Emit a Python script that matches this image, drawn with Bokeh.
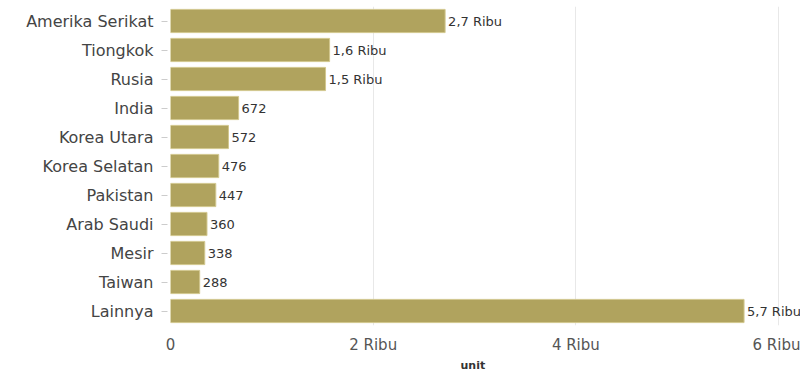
from bokeh.plotting import figure
from bokeh.models import FactorRange, Range1d, FixedTicker, LabelSet, Title, ColumnDataSource
from bokeh.core.properties import value
from bokeh.embed import file_html
from bokeh.resources import INLINE

countries = ["Amerika Serikat", "Tiongkok", "Rusia", "India", "Korea Utara",
             "Korea Selatan", "Pakistan", "Arab Saudi", "Mesir", "Taiwan", "Lainnya"]
values = [2710, 1570, 1530, 672, 572, 476, 447, 360, 338, 288, 5660]
value_labels = ["2,7 Ribu", "1,6 Ribu", "1,5 Ribu", "672", "572", "476", "447",
                "360", "338", "288", "5,7 Ribu"]
x_ticks = [0, 2000, 4000, 6000]
x_tick_labels = ["0", "2 Ribu", "4 Ribu", "6 Ribu"]
x_title = "unit"

FONT = "DejaVu Sans"

src = ColumnDataSource(dict(country=countries, value=values, label=value_labels))

p = figure(width=800, height=371, output_backend="svg", toolbar_location=None,
           y_range=FactorRange(factors=list(reversed(countries)), range_padding=0),
           x_range=Range1d(0, 6217),
           min_border_left=170, min_border_right=0, min_border_top=6, min_border_bottom=0)
p.outline_line_color = None
p.background_fill_color = "white"

p.hbar(y="country", right="value", left=0, height=0.8, source=src,
       fill_color="#b0a35e", line_color="#d2c78e", line_width=1)

labels = LabelSet(x="value", y="country", text="label", source=src,
                  x_offset=3, text_baseline="middle", text_align="left",
                  text_font=value(FONT), text_font_size="13px", text_color="#333333")
p.add_layout(labels)

# x axis
p.xaxis.ticker = FixedTicker(ticks=x_ticks)
p.xaxis.major_label_overrides = {t: l for t, l in zip(x_ticks, x_tick_labels)}
p.xaxis.axis_line_color = None
p.xaxis.major_tick_line_color = None
p.xaxis.minor_tick_line_color = None
p.xaxis.major_tick_out = 0
p.xaxis.major_tick_in = 0
p.xaxis.major_label_standoff = 10
p.xaxis.major_label_text_font = FONT
p.xaxis.major_label_text_font_size = "15px"
p.xaxis.major_label_text_color = "#555555"

title = Title(text=x_title, align="left", offset=290, standoff=0,
              text_font=FONT, text_font_size="11px", text_font_style="bold",
              text_color="#333333")
p.add_layout(title, "below")

# y axis
p.yaxis.axis_line_color = None
p.yaxis.major_tick_line_color = "#cccccc"
p.yaxis.major_tick_in = -3
p.yaxis.major_tick_out = 9
p.yaxis.major_label_standoff = 8
p.yaxis.major_label_text_font = FONT
p.yaxis.major_label_text_font_size = "16px"
p.yaxis.major_label_text_color = "#444444"

p.xgrid.grid_line_color = "#e8e8e8"
p.xgrid.ticker = FixedTicker(ticks=x_ticks)
p.ygrid.grid_line_color = None

open("out.html", "w").write(file_html(p, INLINE))
